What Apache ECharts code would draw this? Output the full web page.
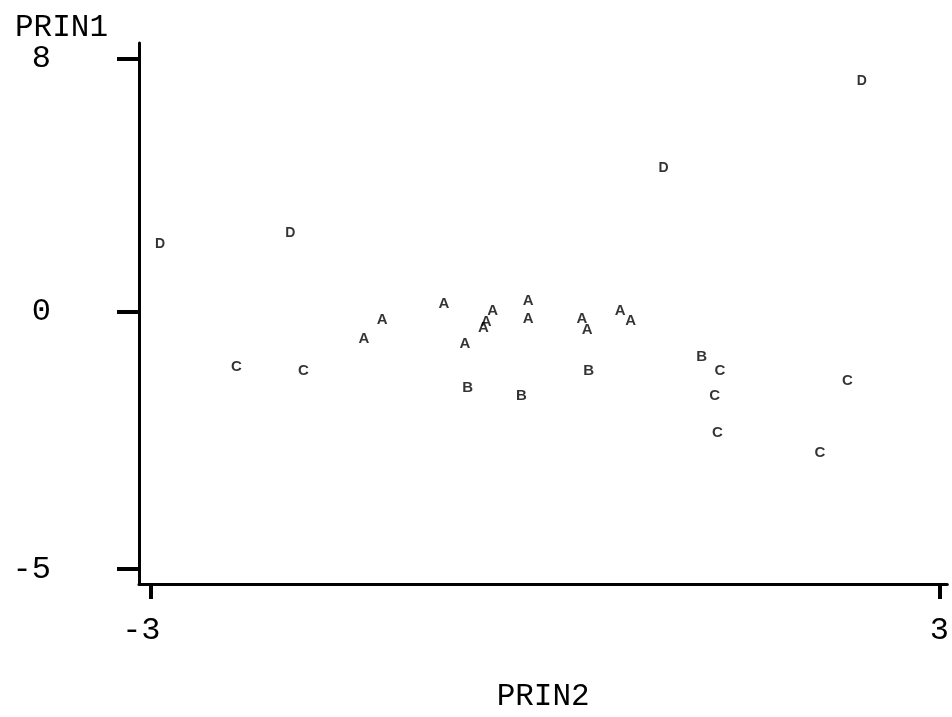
<!DOCTYPE html>
<html>
<head>
<meta charset="utf-8">
<script src="https://cdn.jsdelivr.net/npm/echarts@6/dist/echarts.min.js"></script>
<style>
  html, body { margin: 0; padding: 0; background: #fff; overflow: hidden; }
  #chart { width: 952px; height: 717px; }
</style>
</head>
<body>
<div id="chart"></div>
<script>
// points: [PRIN2, PRIN1]
const groupA = [
  [-1.38, -0.47], [-1.24, -0.10], [-0.77, 0.35], [-0.61, -0.57],
  [-0.47, -0.25], [-0.45, -0.14], [-0.40, 0.13], [-0.13, 0.44],
  [-0.13, -0.08], [0.28, -0.08], [0.32, -0.28], [0.57, 0.13], [0.65, -0.12]
];
const groupB = [[-0.59, -1.42], [-0.18, -1.58], [0.33, -1.08], [1.19, -0.82]];
const groupC = [
  [-2.35, -1.00], [-1.84, -1.08], [1.33, -1.08], [1.29, -1.58],
  [1.31, -2.30], [2.30, -1.29], [2.09, -2.69]
];
const groupD = [[-2.93, 2.24], [-1.94, 2.60], [0.90, 4.64], [2.41, 7.40]];

const xTicks = [-3, 3];
const yTicks = [-5, 0, 8];

// the printed axis is stretched below zero (0..-5 takes more room than 0..5)
const NEG = 1.625;
const toAxis = v => v < 0 ? v * NEG : v;
const fromAxis = t => t < 0 ? Math.round(t / NEG) : Math.round(t);

const font = 'Liberation Mono';
const chart = echarts.init(document.getElementById('chart'));

function letters(name, pts) {
  return {
    name: name,
    type: 'scatter',
    symbol: 'circle',
    symbolSize: 1,
    itemStyle: { color: 'rgba(0,0,0,0)' },
    label: {
      show: true,
      position: 'inside',
      offset: [0, 3],
      formatter: name,
      color: '#000',
      fontFamily: 'Liberation Sans',
      fontWeight: 'bold',
      fontSize: name === 'D' ? 14 : 15
    },
    data: pts.map(p => [p[0], toAxis(p[1])])
  };
}

chart.setOption({
  animation: false,
  backgroundColor: '#fff',
  title: {
    text: 'PRIN1',
    left: 10,
    top: 7,
    textStyle: { fontFamily: font, fontWeight: 'normal', fontSize: 31, color: '#000' }
  },
  grid: { left: 139, width: 813, top: 43, bottom: 129 },
  xAxis: {
    type: 'value',
    min: -3.091,
    max: 3.06,
    name: 'PRIN2',
    nameLocation: 'middle',
    nameGap: 97,
    nameTextStyle: { fontFamily: font, fontSize: 31, color: '#000' },
    splitLine: { show: false },
    axisLine: { onZero: false, lineStyle: { color: '#000', width: 3 } },
    axisTick: { customValues: xTicks, length: 15, lineStyle: { color: '#000', width: 4 } },
    axisLabel: {
      customValues: xTicks,
      // keep the digit under the tick, minus sign hanging to the left
      formatter: v => v < 0 ? String(v) + ' ' : String(v),
      margin: 31,
      fontFamily: font,
      fontSize: 32,
      color: '#000'
    }
  },
  yAxis: {
    type: 'value',
    min: -8.596,
    max: 8.502,
    splitLine: { show: false },
    axisLine: { onZero: false, lineStyle: { color: '#000', width: 3 } },
    axisTick: { customValues: yTicks.map(toAxis), length: 22, lineStyle: { color: '#000', width: 4 } },
    axisLabel: {
      customValues: yTicks.map(toAxis),
      formatter: v => String(fromAxis(v)),
      margin: 88,
      align: 'right',
      fontFamily: font,
      fontSize: 32,
      color: '#000'
    }
  },
  series: [
    letters('A', groupA),
    letters('B', groupB),
    letters('C', groupC),
    letters('D', groupD)
  ]
});
</script>
</body>
</html>
